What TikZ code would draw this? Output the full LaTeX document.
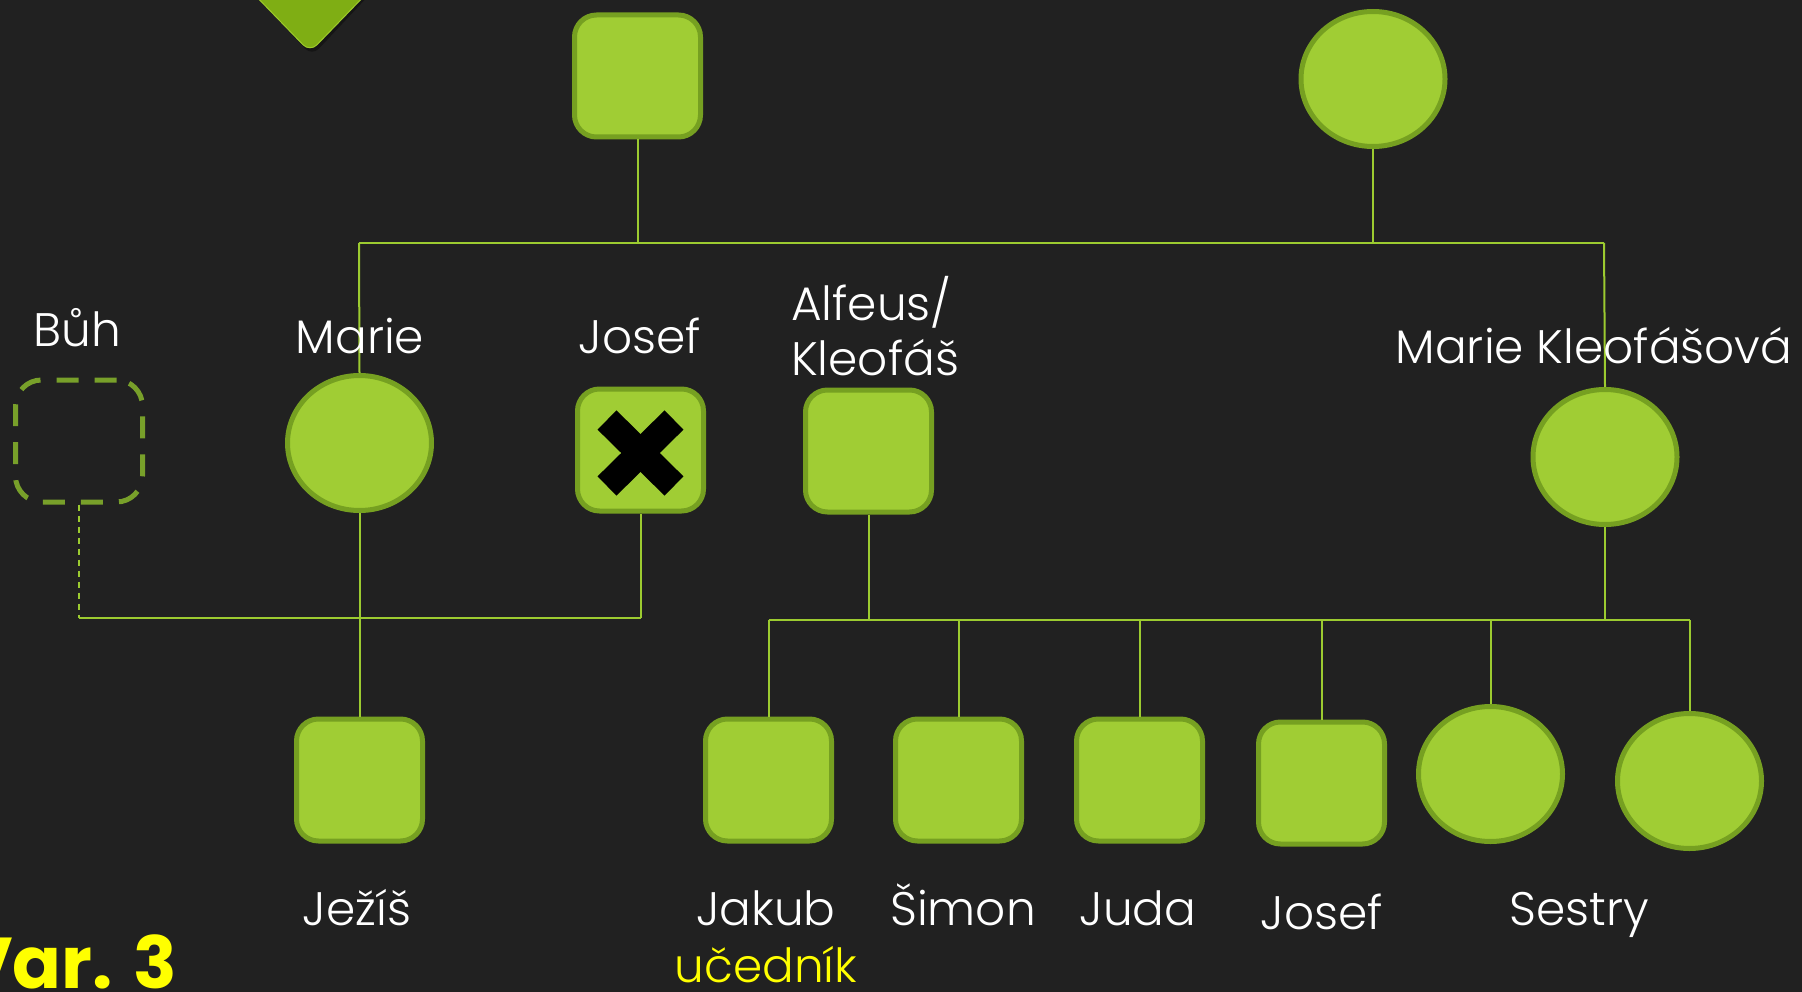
\documentclass[tikz,border=0pt]{standalone}
\usepackage{fontspec}
\setmainfont{Poppins}
\IfFontExistsTF{Poppins Light}{\newfontfamily\lbfont{Poppins Light}}{\newfontfamily\lbfont{Poppins}}
\usetikzlibrary{shapes.geometric}
\definecolor{bg}{HTML}{212121}
\definecolor{sqfill}{HTML}{A0CD34}
\definecolor{sqborder}{HTML}{76A021}
\definecolor{conn}{HTML}{9CCB30}
\definecolor{tri}{HTML}{7FAE14}
\definecolor{triedge}{HTML}{9CCB2A}
\definecolor{dashc}{HTML}{78A02A}
\definecolor{yel}{HTML}{FFFF00}
\tikzset{
  sq/.style={draw=sqborder, line width=5pt, fill=sqfill, rounded corners=22pt,
    minimum width=126pt, minimum height=122pt, inner sep=0pt},
  circ/.style={ellipse, draw=sqborder, line width=5pt, fill=sqfill,
    minimum width=144pt, minimum height=135pt, inner sep=0pt},
  godbox/.style={draw=dashc, line width=5pt, rounded corners=26pt,
    dash pattern=on 22pt off 16pt, minimum width=127pt, minimum height=122pt, inner sep=0pt},
  conline/.style={draw=conn, line width=2pt},
  godline/.style={draw=conn, line width=1.6pt, dash pattern=on 6pt off 5pt},
  lbl/.style={text=white, font=\lbfont\fontsize{47}{54}\selectfont, inner sep=0pt, anchor=base},
  ylbl/.style={text=yel, font=\lbfont\fontsize{47}{54}\selectfont, inner sep=0pt, anchor=base},
}
\begin{document}
\begin{tikzpicture}[x=1pt,y=-1pt]
\fill[bg] (0,0) rectangle (1802,992);
\useasboundingbox (0,0) rectangle (1802,992);
% decorative triangle at top left
\fill[black, opacity=0.35, rounded corners=10pt] (252,-8) -- (312,56) -- (372,-8) -- cycle;
\fill[tri, draw=triedge, line width=1pt, rounded corners=10pt] (250,-10) -- (310,52) -- (370,-10) -- cycle;

% nodes
\node[sq] (gf) at (637.5,76) {};
\node[circ] (gm) at (1373,79) {};
\node[godbox] (buh) at (79,441) {};
\node[circ] (marie) at (359.5,443) {};
\node[sq] (josef) at (640.5,450) {};
\node[sq] (alfeus) at (868.5,451) {};
\node[circ] (mk) at (1605,457) {};
\node[sq] (jezis) at (359.5,780) {};
\node[sq] (jakub) at (768.5,780) {};
\node[sq] (simon) at (958.5,780) {};
\node[sq] (juda) at (1139.5,780) {};
\node[sq] (josef2) at (1321.5,783) {};
\node[circ] (s1) at (1490.5,774) {};
\node[circ] (s2) at (1689.5,781) {};

% cross on Josef
\draw[black, line width=27pt] (607,420) -- (674,486);
\draw[black, line width=27pt] (674,420) -- (607,486);

% junction coordinates
\coordinate (topL) at (359,243);
\coordinate (topR) at (1604,243);
\coordinate (gfj) at (637.5,243);
\coordinate (gmj) at (1373,243);
\coordinate (lowL) at (79,618);
\coordinate (lowR) at (640.5,618);
\coordinate (kidL) at (768.5,620);
\coordinate (kidR) at (1689.5,620);

% connectors
\draw[conline] (gf.south) -- (gfj);
\draw[conline] (gm.south) -- (gmj);
\draw[conline] (topL) -- (topR);
\draw[conline] (topL) -- (marie.north);
\draw[conline] (topR) -- (mk.north);
\draw[godline] (buh.south) -- (lowL);
\draw[conline] (lowL) -- (lowR);
\draw[conline] (josef.south) -- (lowR);
\draw[conline] (marie.south) -- (jezis.north);
\draw[conline] (kidL) -- (kidR);
\draw[conline] (alfeus.south) -- (alfeus.south |- kidL);
\draw[conline] (mk.south) -- (mk.south |- kidL);
\draw[conline] (kidL) -- (jakub.north);
\draw[conline] (simon.north |- kidL) -- (simon.north);
\draw[conline] (juda.north |- kidL) -- (juda.north);
\draw[conline] (josef2.north |- kidL) -- (josef2.north);
\draw[conline] (s1.north |- kidL) -- (s1.north);
\draw[conline] (kidR) -- (s2.north);

% labels
\node[lbl] (lbuh) at (77,347) {Bůh};
\node[lbl] (lmarie) at (360,353) {Marie};
\node[lbl] (ljosef) at (640,353) {Josef};
\node[lbl, anchor=base west] (lalf1) at (791,320) {Alfeus/};
\node[lbl, anchor=base west] (lalf2) at (791,375) {Kleofáš};
\node[lbl] (lmk) at (1594,363) {Marie Kleofášová};
\node[lbl] (ljezis) at (357,925) {Ježíš};
\node[lbl] (ljakub) at (766,925) {Jakub};
\node[ylbl] (lucednik) at (766,982) {učedník};
\node[lbl] (lsimon) at (963,925) {Šimon};
\node[lbl] (ljuda) at (1138,925) {Juda};
\node[lbl] (ljosef2) at (1322,929) {Josef};
\node[lbl] (lsestry) at (1579,925) {Sestry};
\node[text=yel, font=\bfseries\fontsize{72}{80}\selectfont, inner sep=0pt, anchor=base east] (var) at (177,988) {Var. 3};
\end{tikzpicture}
\end{document}
